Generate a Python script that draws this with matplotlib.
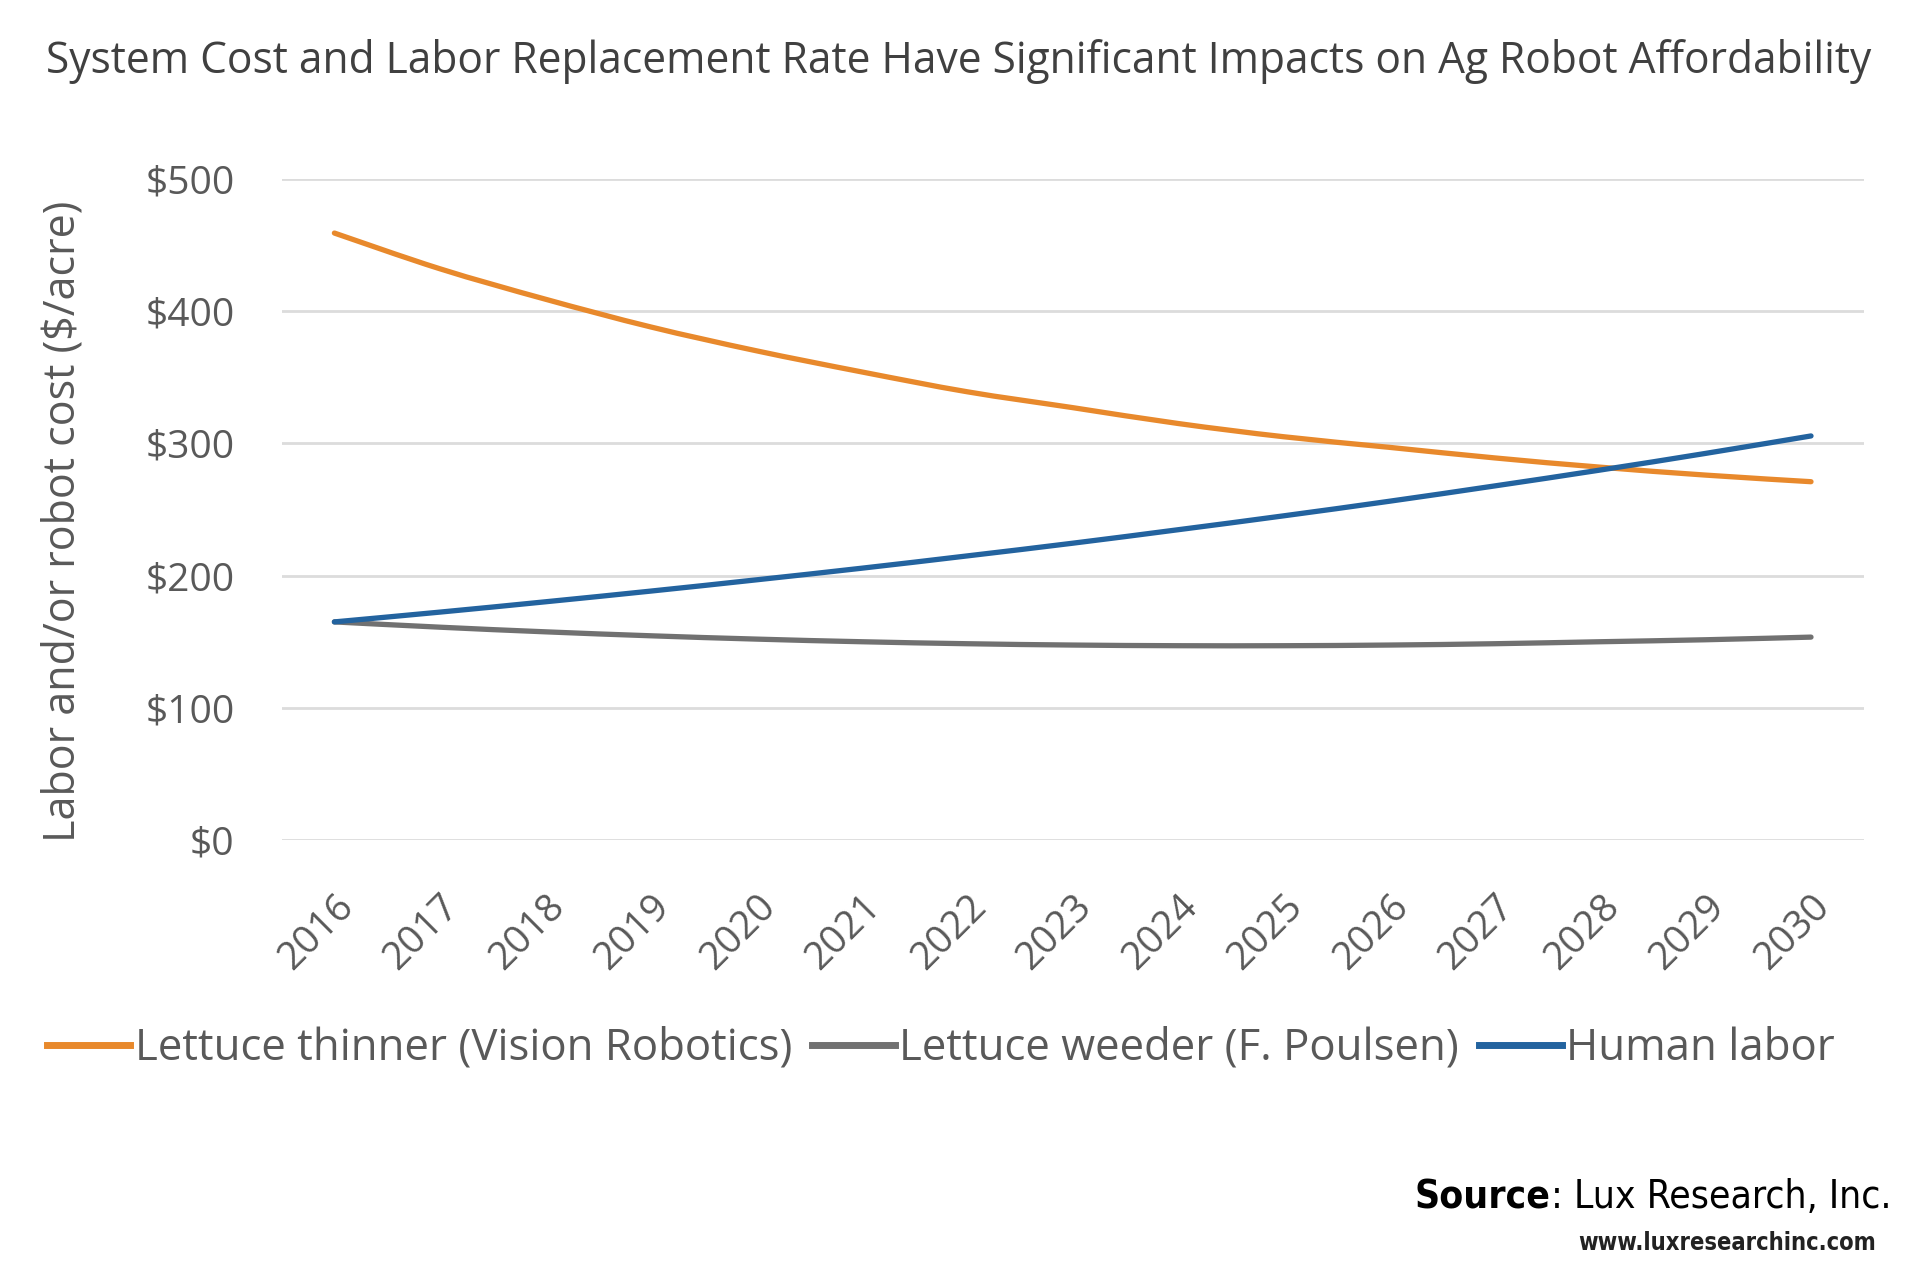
import matplotlib
matplotlib.use('Agg')
from matplotlib import pyplot as plt
from matplotlib.path import Path
from matplotlib.patches import PathPatch
from matplotlib.lines import Line2D

years = [2016, 2017, 2018, 2019, 2020, 2021, 2022, 2023, 2024, 2025, 2026, 2027, 2028, 2029, 2030]
thinner = [459, 432, 409, 388, 370, 354, 339, 327, 315, 305, 297, 289, 282, 276, 271]
weeder = [165, 161, 157.5, 154.5, 152, 150, 148.5, 147.5, 147, 147, 147.5, 148.5, 150, 151.5, 153.5]
human = [165, 172.4, 180.2, 188.3, 196.8, 205.6, 214.9, 224.5, 234.7, 245.2, 256.2, 267.8, 279.8, 292.4, 305.6]
series_names = ["Lettuce thinner (Vision Robotics)", "Lettuce weeder (F. Poulsen)", "Human labor"]
colors = ['#E8892C', '#717171', '#23639F']
y_ticks = [0, 100, 200, 300, 400, 500]

title = "System Cost and Labor Replacement Rate Have Significant Impacts on Ag Robot Affordability"
ylabel = "Labor and/or robot cost ($/acre)"


def smooth_path(xs, ys):
    # excel-style smoothed line: catmull-rom through the points as bezier segments
    n = len(xs)
    verts = [(xs[0], ys[0])]
    codes = [Path.MOVETO]
    for i in range(n - 1):
        a, b = max(i - 1, 0), min(i + 2, n - 1)
        verts.append((xs[i] + (xs[i + 1] - xs[a]) / 6, ys[i] + (ys[i + 1] - ys[a]) / 6))
        verts.append((xs[i + 1] - (xs[b] - xs[i]) / 6, ys[i + 1] - (ys[b] - ys[i]) / 6))
        verts.append((xs[i + 1], ys[i + 1]))
        codes += [Path.CURVE4] * 3
    return Path(verts, codes)


plt.rcParams['font.family'] = ['Open Sans', 'DejaVu Sans']

fig = plt.figure(figsize=(19.2, 12.71), dpi=100)
ax = fig.add_axes([0.1467, 0.339, 0.824, 0.5203])

x = list(range(len(years)))
handles = []
for vals, c, name in zip([thinner, weeder, human], colors, series_names):
    ax.add_patch(PathPatch(smooth_path(x, vals), fill=False, ec=c, lw=3.8, capstyle='round'))
    handles.append(Line2D([], [], color=c, lw=5, label=name))

ax.set_xlim(-0.5, len(years) - 0.5)
ax.set_ylim(0, 500)
ax.set_yticks(y_ticks)
ax.set_yticklabels(['$' + str(v) for v in y_ticks])
ax.set_xticks(x)
ax.set_xticklabels([str(y) for y in years], rotation=45, ha='right', rotation_mode='anchor')
ax.grid(axis='y', color='#DCDCDC', lw=2)
ax.set_axisbelow(True)
for s in ax.spines.values():
    s.set_visible(False)
ax.tick_params(axis='y', length=0, labelsize=28, labelcolor='#595959', pad=34)
ax.tick_params(axis='x', length=0, labelsize=28, labelcolor='#595959', pad=34)

fig.text(0.033, 0.59, ylabel, rotation=90, ha='center', va='center', fontsize=31, color='#595959')

t = fig.text(0.024, 0.952, title, ha='left', va='center', fontsize=30, color='#404040')
fig.canvas.draw()
w = t.get_window_extent().width
t.set_fontsize(30 * 1827 / w)

fig.legend(handles=handles, loc='center left', bbox_to_anchor=(0.004, 0.175), ncol=3, frameon=False,
           fontsize=31.5, handlelength=1.9, handletextpad=0.1, columnspacing=0.45,
           labelcolor='#595959')

src = fig.text(0.985, 0.058, ": Lux Research, Inc.", ha='right', va='center', fontsize=28,
               family=['DejaVu Sans'], fontstretch='condensed', color='black')
fig.canvas.draw()
left = fig.transFigure.inverted().transform(src.get_window_extent().p0)[0]
fig.text(left, 0.058, "Source", ha='right', va='center', fontsize=28, fontweight='bold',
         family=['DejaVu Sans'], fontstretch='condensed', color='black')
fig.text(0.977, 0.022, "www.luxresearchinc.com", ha='right', va='center', fontsize=17,
         fontweight='bold', family=['DejaVu Sans'], fontstretch='condensed', color='#222222')

fig.savefig('out.png', dpi=100, facecolor='white')
